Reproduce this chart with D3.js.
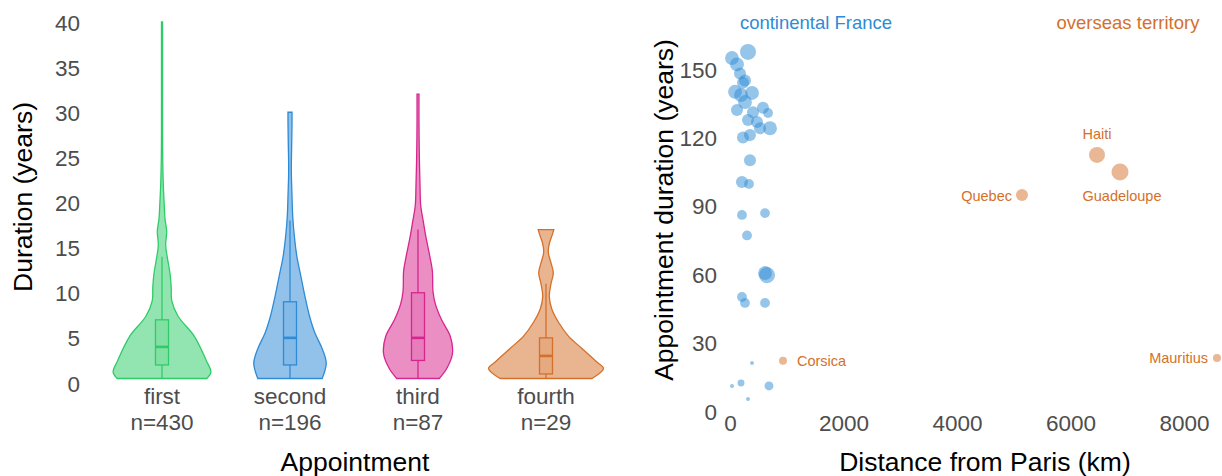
<!DOCTYPE html>
<html>
<head>
<meta charset="utf-8">
<script src="https://cdn.jsdelivr.net/npm/d3@7"></script>
<style>
  html, body { margin: 0; padding: 0; background: #fff; }
  svg { display: block; font-family: "Liberation Sans", Arial, sans-serif; }
</style>
</head>
<body>
<svg id="chart" width="1222" height="476"></svg>
<script>
// ---------------- DATA ----------------
// Left panel: violins of appointment duration
const categories = ["first", "second", "third", "fourth"];
const counts = [430, 196, 87, 29];
const yTicksLeft = [0, 5, 10, 15, 20, 25, 30, 35, 40];

// density profiles (duration level, relative density)
const levelsFirst  = [0.5, 1.2, 2.5, 5.2, 7.4, 9.1, 10.6, 12.1, 14, 15.3, 16.8, 18.2, 19.6, 21.9, 24.9, 27.8, 34, 40];
const densFirst    = [0.78, 0.85, 0.77, 0.56, 0.28, 0.17, 0.16, 0.14, 0.09, 0.064, 0.082, 0.052, 0.04, 0.023, 0.012, 0.009, 0.009, 0.009];
const levelsSecond = [0.5, 2.2, 3.8, 5.6, 7.4, 9.6, 11.8, 14, 16.3, 18.5, 20.7, 23.6, 26.6, 28.8, 30];
const densSecond   = [0.56, 0.63, 0.56, 0.43, 0.34, 0.26, 0.19, 0.12, 0.075, 0.047, 0.035, 0.023, 0.03, 0.035, 0.035];
const levelsThird  = [0.5, 1.6, 3.3, 5.2, 7, 8.8, 10.2, 12.4, 13.9, 16.1, 17.9, 19.7, 21.9, 25.2, 28.9, 32];
const densThird    = [0.37, 0.5, 0.6, 0.56, 0.41, 0.3, 0.26, 0.25, 0.21, 0.14, 0.092, 0.047, 0.035, 0.023, 0.017, 0.017];
const levelsFourth = [0.5, 1.6, 2.3, 3.8, 5.2, 6.7, 8.2, 9.6, 11, 12.2, 13.3, 14.5, 15.5, 16.5, 17];
const densFourth   = [0.8, 1, 0.89, 0.63, 0.39, 0.22, 0.1, 0.057, 0.087, 0.127, 0.087, 0.04, 0.06, 0.113, 0.136];

// box plot stats
const boxMin    = [0.5, 0.5, 0.5, 0.5];
const boxQ1     = [2, 2, 2.5, 1];
const boxMedian = [4, 5, 5, 3];
const boxQ3     = [7, 9, 10, 5];
const boxMax    = [14, 18, 17, 11];

// Right panel: appointment duration vs distance
const franceDist = [317, 35, 123, 176, 264, 229, 88, 194, 388, 264, 123, 405, 581, 670, 317, 476, 705, 229, 352, 529, 352, 211, 335, 211, 617, 300, 652, 617, 211, 264, 617, 388, 35, 194, 687, 317];
const franceDur  = [157.5, 154.8, 152, 148, 145, 144, 140, 138.6, 139.5, 135.5, 132, 131, 133, 130.7, 127.6, 126.8, 124, 120, 121, 124, 110, 100.4, 99.6, 86, 86.8, 77, 59.6, 60.5, 50, 47.4, 47.4, 21, 11, 12.3, 11, 5.3];
const franceSize = [16, 12, 12, 9, 9, 9, 12, 12, 12, 12, 9, 9, 9, 6, 9, 9, 12, 9, 9, 9, 9, 9, 6, 6, 6, 6, 16, 12, 6, 6, 6, 1, 1, 3, 5, 1];

const overseasNames = ["Corsica", "Quebec", "Haiti", "Guadeloupe", "Mauritius"];
const overseasDist  = [934, 5145, 6467, 6872, 8581];
const overseasDur   = [22, 94.7, 112.3, 104.8, 23.2];
const overseasSize  = [4, 9, 16, 18, 4];

const xTicksRight = [0, 2000, 4000, 6000, 8000];
const yTicksRight = [0, 30, 60, 90, 120, 150];
const groupLabels = ["continental France", "overseas territory"];

// ---------------- STYLE ----------------
const violinColors = ["#2ecc68", "#2e8bd6", "#d6268e", "#d4702a"];
const blue = "#2e8bd6";
const orange = "#d4702a";
const tickColor = "#4d4d4d";

const svg = d3.select("#chart");

// ---------------- LEFT PANEL ----------------
const profiles = [
  levelsFirst.map((v, i) => ({ v, d: densFirst[i] })),
  levelsSecond.map((v, i) => ({ v, d: densSecond[i] })),
  levelsThird.map((v, i) => ({ v, d: densThird[i] })),
  levelsFourth.map((v, i) => ({ v, d: densFourth[i] }))
];

const xL = d3.scalePoint().domain(categories).range([98, 610]).padding(0.5);
const yL = d3.scaleLinear().domain([0, 40]).range([383, 22]);
const wL = d3.scaleLinear().domain([0, 1]).range([0, 57.5]);

const left = svg.append("g");

// y axis
const yAxisL = d3.axisLeft(yL).tickValues(yTicksLeft).tickSize(0).tickPadding(0);
const gyL = left.append("g").attr("transform", "translate(80,0)").call(yAxisL);
gyL.select(".domain").remove();
gyL.selectAll("text").attr("fill", tickColor).style("font-size", "22.5px")
  .attr("font-family", "Liberation Sans, Arial, sans-serif").attr("dy", "0.36em");

// violins
categories.forEach((c, i) => {
  const cx = xL(c);
  const col = violinColors[i];
  const area = d3.area()
    .y(d => yL(d.v))
    .x0(d => cx - wL(d.d))
    .x1(d => cx + wL(d.d))
    .curve(d3.curveCatmullRom.alpha(0.5));
  left.append("path")
    .datum(profiles[i])
    .attr("d", area)
    .attr("fill", col).attr("fill-opacity", 0.52)
    .attr("stroke", col).attr("stroke-width", 1.3);

  // whiskers
  left.append("line").attr("x1", cx).attr("x2", cx)
    .attr("y1", yL(boxMin[i])).attr("y2", yL(boxQ1[i]))
    .attr("stroke", col).attr("stroke-width", 1.3);
  left.append("line").attr("x1", cx).attr("x2", cx)
    .attr("y1", yL(boxQ3[i])).attr("y2", yL(boxMax[i]))
    .attr("stroke", col).attr("stroke-width", 1.3);
  // box
  const bw = 13;
  left.append("rect")
    .attr("x", cx - bw / 2).attr("width", bw)
    .attr("y", yL(boxQ3[i])).attr("height", yL(boxQ1[i]) - yL(boxQ3[i]))
    .attr("fill", col).attr("fill-opacity", 0.15)
    .attr("stroke", col).attr("stroke-width", 1.3);
  left.append("line")
    .attr("x1", cx - bw / 2).attr("x2", cx + bw / 2)
    .attr("y1", yL(boxMedian[i])).attr("y2", yL(boxMedian[i]))
    .attr("stroke", col).attr("stroke-width", 2.6);

  // category labels
  left.append("text").attr("x", cx).attr("y", 404)
    .attr("text-anchor", "middle").attr("fill", tickColor)
    .style("font-size", "22.5px").text(c);
  left.append("text").attr("x", cx).attr("y", 430)
    .attr("text-anchor", "middle").attr("fill", tickColor)
    .style("font-size", "22.5px").text("n=" + counts[i]);
});

left.append("text").attr("transform", "translate(32,197) rotate(-90)")
  .attr("text-anchor", "middle").attr("fill", "#000")
  .style("font-size", "26.5px").text("Duration (years)");
left.append("text").attr("x", 355).attr("y", 471)
  .attr("text-anchor", "middle").attr("fill", "#000")
  .style("font-size", "26.5px").text("Appointment");

// ---------------- RIGHT PANEL ----------------
const xR = d3.scaleLinear().domain([0, 8000]).range([730, 1184]);
const yR = d3.scaleLinear().domain([0, 150]).range([411, 69]);
const rR = d3.scaleSqrt().domain([0, 18]).range([0, 8.5]);

const right = svg.append("g");

const gyR = right.append("g").attr("transform", "translate(717,0)")
  .call(d3.axisLeft(yR).tickValues(yTicksRight).tickSize(0).tickPadding(0));
gyR.select(".domain").remove();
gyR.selectAll("text").attr("fill", tickColor).style("font-size", "22.5px")
  .attr("font-family", "Liberation Sans, Arial, sans-serif").attr("dy", "0.36em");

const gxR = right.append("g").attr("transform", "translate(0,414)")
  .call(d3.axisBottom(xR).tickValues(xTicksRight).tickSize(0).tickPadding(0).tickFormat(d3.format("d")));
gxR.select(".domain").remove();
gxR.selectAll("text").attr("fill", tickColor).style("font-size", "22.5px")
  .attr("font-family", "Liberation Sans, Arial, sans-serif").attr("dy", "0.74em");

const france = franceDist.map((d, i) => ({ x: d, y: franceDur[i], s: franceSize[i] }));
right.append("g").selectAll("circle").data(france).join("circle")
  .attr("cx", d => xR(d.x)).attr("cy", d => yR(d.y)).attr("r", d => rR(d.s))
  .attr("fill", blue).attr("fill-opacity", 0.5);

const overseas = overseasNames.map((n, i) => ({ name: n, x: overseasDist[i], y: overseasDur[i], s: overseasSize[i] }));
right.append("g").selectAll("circle").data(overseas).join("circle")
  .attr("cx", d => xR(d.x)).attr("cy", d => yR(d.y)).attr("r", d => rR(d.s))
  .attr("fill", orange).attr("fill-opacity", 0.5);

// point labels (placement per label)
const labelPlace = {
  "Corsica":    { dx: 14, dy: 0, anchor: "start" },
  "Quebec":     { dx: -10, dy: 1, anchor: "end" },
  "Haiti":      { dx: 0, dy: -21, anchor: "middle" },
  "Guadeloupe": { dx: 2, dy: 24, anchor: "middle" },
  "Mauritius":  { dx: -9, dy: 0, anchor: "end" }
};
right.append("g").selectAll("text").data(overseas).join("text")
  .attr("x", d => xR(d.x) + labelPlace[d.name].dx)
  .attr("y", d => yR(d.y) + labelPlace[d.name].dy)
  .attr("dy", "0.35em")
  .attr("text-anchor", d => labelPlace[d.name].anchor)
  .attr("fill", orange).style("font-size", "14.5px")
  .text(d => d.name);

right.append("text").attr("x", 816).attr("y", 29).attr("text-anchor", "middle")
  .attr("fill", blue).style("font-size", "18.5px").text(groupLabels[0]);
right.append("text").attr("x", 1128).attr("y", 29).attr("text-anchor", "middle")
  .attr("fill", orange).style("font-size", "18.5px").text(groupLabels[1]);

right.append("text").attr("transform", "translate(673,210) rotate(-90)")
  .attr("text-anchor", "middle").attr("fill", "#000")
  .style("font-size", "26.5px").text("Appointment duration (years)");
right.append("text").attr("x", 985).attr("y", 471)
  .attr("text-anchor", "middle").attr("fill", "#000")
  .style("font-size", "26.5px").text("Distance from Paris (km)");
</script>
</body>
</html>
